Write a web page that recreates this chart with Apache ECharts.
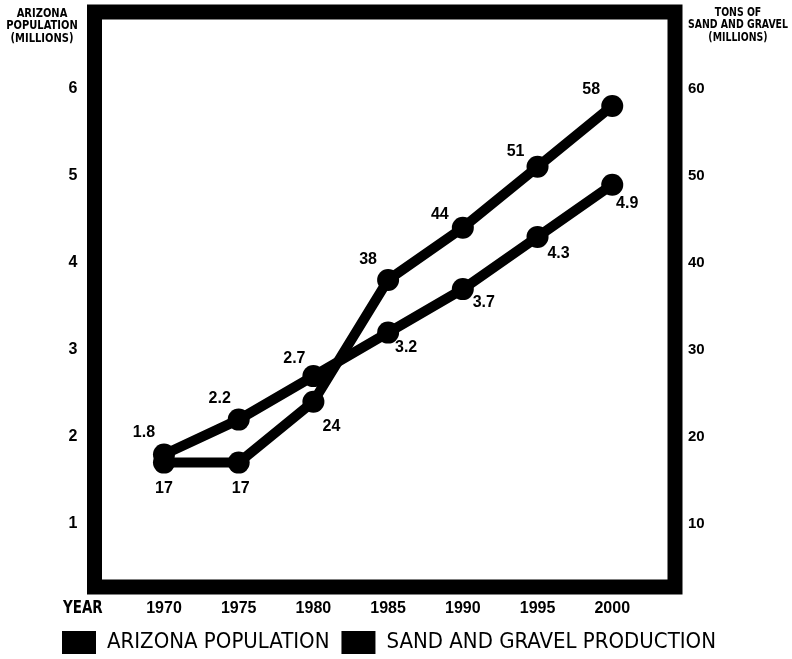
<!DOCTYPE html>
<html>
<head>
<meta charset="utf-8">
<script src="https://cdn.jsdelivr.net/npm/echarts@6/dist/echarts.min.js"></script>
<style>
html,body{margin:0;padding:0;background:#fff;}
#chart{width:792px;height:659px;}
</style>
</head>
<body>
<div id="chart"></div>
<script>
// ---- data ----
const years = [1970, 1975, 1980, 1985, 1990, 1995, 2000];
const population = [1.8, 2.2, 2.7, 3.2, 3.7, 4.3, 4.9];          // millions
const sandGravel = [17, 17, 24, 38, 44, 51, 58];                   // million tons
const leftTicks = [1, 2, 3, 4, 5, 6];
const rightTicks = [10, 20, 30, 40, 50, 60];
const seriesNames = ['ARIZONA POPULATION', 'SAND AND GRAVEL PRODUCTION'];
const leftTitle = 'ARIZONA\nPOPULATION\n(MILLIONS)';
const rightTitle = 'TONS OF\nSAND AND GRAVEL\n(MILLIONS)';
const xTitle = 'YEAR';

// ---- label placement (style) ----
const popLabelOffsets = [[-20,-22],[-19,-21],[-19,-18],[18,15],[21,13],[21,17],[15,19]];
const sandLabelOffsets = [[0,26],[2,26],[18,25],[-20,-20],[-23,-13],[-22,-15],[-21,-16]];

const NARROW = '"Liberation Sans Narrow","DejaVu Sans Condensed","Arial Narrow",sans-serif';
const SANS = '"Liberation Sans",Arial,sans-serif';

function buildData(vals, offsets) {
  return years.map((y, i) => ({
    value: [y, vals[i]],
    label: { offset: offsets[i] }
  }));
}

const chart = echarts.init(document.getElementById('chart'), null, { renderer: 'canvas' });

const labelStyle = {
  show: true,
  position: 'inside',
  color: '#000',
  fontFamily: SANS,
  fontWeight: 'bold',
  fontSize: 16,
  formatter: p => String(p.value[1])
};

const option = {
  backgroundColor: '#fff',
  animation: false,
  grid: {
    left: 94.5, right: 792 - 675, top: 12, bottom: 659 - 587,
    show: true, borderColor: '#000', borderWidth: 15, backgroundColor: 'transparent'
  },
  xAxis: {
    type: 'value', min: 1965.35, max: 2004.2,
    axisLine: { show: false }, axisTick: { show: false }, splitLine: { show: false },
    axisLabel: {
      customValues: years, margin: 14, color: '#000',
      fontFamily: SANS, fontWeight: 'bold', fontSize: 16,
      formatter: v => String(v)
    }
  },
  yAxis: [
    {
      type: 'value', min: 0.276, max: 6.885, position: 'left',
      axisLine: { show: false }, axisTick: { show: false }, splitLine: { show: false },
      axisLabel: {
        customValues: leftTicks, margin: 17, color: '#000',
        fontFamily: SANS, fontWeight: 'bold', fontSize: 16,
        formatter: v => String(v)
      }
    },
    {
      type: 'value', min: 2.7, max: 68.8, position: 'right',
      axisLine: { show: false }, axisTick: { show: false }, splitLine: { show: false },
      axisLabel: {
        customValues: rightTicks, margin: 13, color: '#000',
        fontFamily: SANS, fontWeight: 'bold', fontSize: 15,
        formatter: v => String(v)
      }
    }
  ],
  legend: {
    left: 62, top: 631, padding: 0,
    icon: 'rect', itemWidth: 34, itemHeight: 23, itemGap: 12,
    textStyle: { color: '#000', fontFamily: NARROW, fontSize: 22, padding: [0, 0, 0, 6] },
    data: seriesNames
  },
  graphic: [
    { type: 'text', x: 42, y: 7, scaleX: 0.85,
      style: { text: leftTitle, fill: '#000', font: 'bold 13px ' + NARROW, align: 'center', textAlign: 'center', verticalAlign: 'top', lineHeight: 12.5 } },
    { type: 'text', x: 738, y: 6, scaleX: 0.8,
      style: { text: rightTitle, fill: '#000', font: 'bold 13px ' + NARROW, align: 'center', textAlign: 'center', verticalAlign: 'top', lineHeight: 12.5 } },
    { type: 'text', x: 63, y: 600, scaleX: 0.88,
      style: { text: xTitle, fill: '#000', font: 'bold 17px ' + NARROW, verticalAlign: 'top' } }
  ],
  series: [
    {
      name: seriesNames[0], type: 'line', yAxisIndex: 0,
      symbol: 'circle', symbolSize: 22,
      lineStyle: { color: '#000', width: 10 },
      itemStyle: { color: '#000' },
      label: labelStyle,
      data: buildData(population, popLabelOffsets)
    },
    {
      name: seriesNames[1], type: 'line', yAxisIndex: 1,
      symbol: 'circle', symbolSize: 22,
      lineStyle: { color: '#000', width: 10 },
      itemStyle: { color: '#000' },
      label: labelStyle,
      data: buildData(sandGravel, sandLabelOffsets)
    }
  ]
};
chart.setOption(option);
</script>
</body>
</html>
